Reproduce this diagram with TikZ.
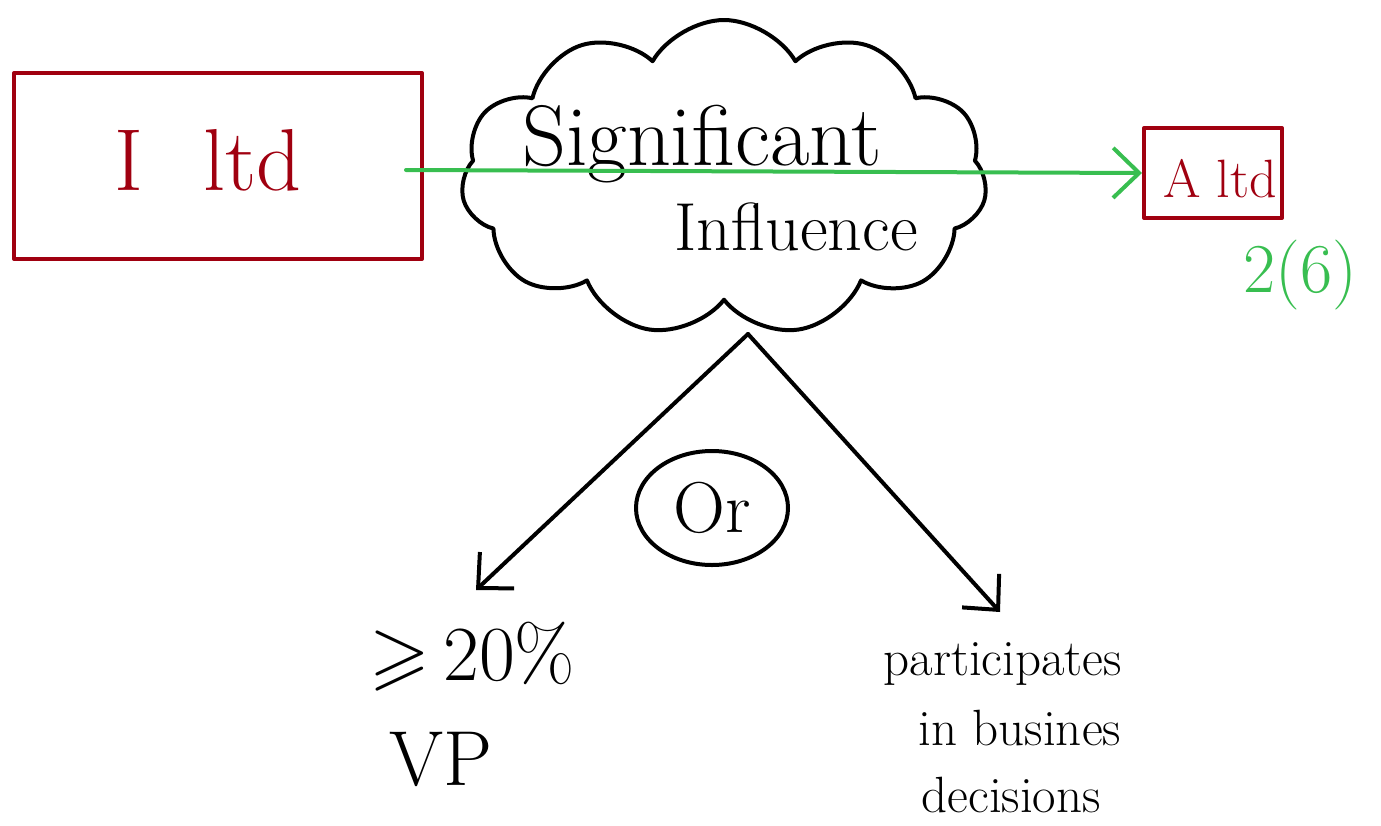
\documentclass[tikz,border=0pt]{standalone}
\usepackage{amssymb}
\usetikzlibrary{shapes.symbols,shapes.geometric,arrows.meta}
\definecolor{boxred}{RGB}{160,0,16}
\definecolor{linkgreen}{RGB}{56,190,80}
\tikzset{
  pen/.style={line width=4pt, line cap=round, line join=round},
  redbox/.style={pen, draw=boxred, inner sep=0pt},
  barb/.style={-{Straight Barb[length=26pt,width=50pt,line width=4pt]}},
  big/.style={font=\fontsize{#1}{#1}\selectfont},
}
\begin{document}
\begin{tikzpicture}[x=1pt,y=-1pt]
\useasboundingbox (0,0) rectangle (1381,825);

% the two companies
\node[redbox, minimum width=408pt, minimum height=186pt] (iltd) at (218,166) {};
\node[text=boxred, big=88, anchor=base] (iltdtext) at (208,190) {I\hspace*{60pt}ltd};
\node[redbox, minimum width=138pt, minimum height=90pt] (altd) at (1213,173) {};
\node[text=boxred, big=54, anchor=base] (altdtext) at (1220,197) {A ltd};
\node[text=linkgreen, big=70, anchor=base west] (sec) at (1240,292) {2(6)};

% the cloud of significant influence
\node[cloud, cloud puffs=11, cloud puff arc=120, aspect=1.6, pen, draw=black,
      minimum width=526pt, minimum height=316pt, inner sep=0pt] (cloud) at (724,178) {};
\node[big=86, anchor=base] (sig) at (702,165) {Significant};
\node[big=68, anchor=base] (infl) at (796,250) {Influence};

% investment link through the cloud
\draw[pen, draw=linkgreen, barb] (iltd.east) ++(-18,4) coordinate (gstart) -- (altd.west);

% the two alternative tests
\coordinate (ctop) at (748,334);
\coordinate (vpend) at (476,590);
\coordinate (pend) at (1000,612);
\draw[pen, barb] (ctop) -- (vpend);
\draw[pen, barb] (ctop) -- (pend);

\node[pen, draw, ellipse, minimum width=152pt, minimum height=114pt, inner sep=0pt, big=72] (or) at (712,508) {Or};

\node[big=78, anchor=base west] (vpa) at (366,680) {$\geqslant$\,20\%};
\node[big=78, anchor=base west] (vpb) at (386,785) {VP};
\node[big=51, anchor=base west] (parta) at (880,675) {participates};
\node[big=51, anchor=base west] (partb) at (915,745) {in busines};
\node[big=51, anchor=base west] (partc) at (918,812) {decisions};
\end{tikzpicture}
\end{document}
